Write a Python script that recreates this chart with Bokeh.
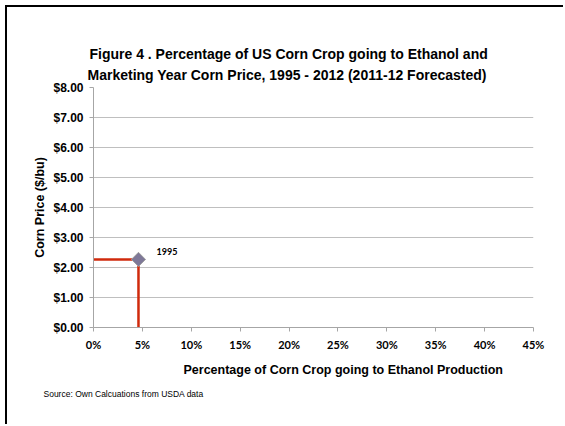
from bokeh.plotting import figure
from bokeh.models import (ColumnDataSource, FixedTicker, NumeralTickFormatter,
                          Title, Range1d)
from bokeh.core.properties import value
from bokeh.embed import file_html
from bokeh.resources import INLINE

# ---- data ----
years = ["1995"]
pct_ethanol = [0.046]
corn_price = [2.27]

y_ticks = [0, 1, 2, 3, 4, 5, 6, 7, 8]
x_ticks = [0, 0.05, 0.10, 0.15, 0.20, 0.25, 0.30, 0.35, 0.40, 0.45]

title_line1 = "Figure 4 . Percentage of US Corn Crop going to Ethanol and"
title_line2 = "Marketing Year Corn Price, 1995 - 2012 (2011-12 Forecasted)"
x_title = "Percentage of Corn Crop going to Ethanol Production"
y_title = "Corn Price ($/bu)"
source_note = "Source:  Own Calcuations from USDA data"

ARIAL = "Liberation Sans"
CALIBRI = "Lato"

W, H = 558, 419
p = figure(width=W, height=H, output_backend="svg", toolbar_location=None,
           x_range=Range1d(0, 0.45), y_range=Range1d(0, 8),
           min_border_left=86, min_border_right=32,
           min_border_top=80, min_border_bottom=99)
p.margin = (5, 0, 0, 5)
p.styles = {"border-top": "2px solid black", "border-left": "2px solid black"}
p.outline_line_color = None
p.background_fill_color = "white"
p.border_fill_color = "white"

# y axis
p.yaxis.ticker = FixedTicker(ticks=y_ticks)
p.yaxis.formatter = NumeralTickFormatter(format="$0.00")
p.yaxis.major_label_text_font = ARIAL
p.yaxis.major_label_text_font_style = "bold"
p.yaxis.major_label_text_font_size = "12px"
p.yaxis.major_label_text_color = "black"
p.yaxis.axis_line_color = "#a6a6a6"
p.yaxis.major_tick_line_color = "#a6a6a6"
p.yaxis.major_tick_in = 0
p.yaxis.major_tick_out = 4
p.yaxis.minor_tick_line_color = None
p.yaxis.major_label_standoff = 6
p.yaxis.axis_label = y_title
p.yaxis.axis_label_text_font = ARIAL
p.yaxis.axis_label_text_font_style = "bold"
p.yaxis.axis_label_text_font_size = "12.5px"
p.yaxis.axis_label_text_color = "black"
p.yaxis.axis_label_standoff = 3

# x axis
p.xaxis.ticker = FixedTicker(ticks=x_ticks)
p.xaxis.formatter = NumeralTickFormatter(format="0%")
p.xaxis.major_label_text_font = CALIBRI
p.xaxis.major_label_text_font_style = "bold"
p.xaxis.major_label_text_font_size = "11px"
p.xaxis.major_label_text_color = "black"
p.xaxis.axis_line_color = "#a6a6a6"
p.xaxis.major_tick_line_color = "#a6a6a6"
p.xaxis.major_tick_in = 0
p.xaxis.major_tick_out = 4
p.xaxis.minor_tick_line_color = None
p.xaxis.major_label_standoff = 6

p.xgrid.grid_line_color = None
p.ygrid.grid_line_color = "#bfbfbf"
p.ygrid.grid_line_width = 1

src = ColumnDataSource(dict(year=years, x=pct_ethanol, y=corn_price,
                            x0=[0] * len(years), y0=[0] * len(years)))

# red guide lines
p.segment(x0="x0", y0="y", x1="x", y1="y", source=src,
          line_color="#d02a0c", line_width=2.5)
p.segment(x0="x", y0="y0", x1="x", y1="y", source=src,
          line_color="#d02a0c", line_width=2.5)

# marker
p.scatter(x="x", y="y", source=src, marker="square", angle=0.785398,
          size=10, fill_color="#7e7898", line_color="#a0a0a0", line_width=1)

p.text(x="x", y="y", text="year", source=src, x_offset=18, y_offset=-8,
       text_font=value(CALIBRI), text_font_style="bold", text_font_size="9px",
       text_baseline="middle", text_align="left", text_color="black")

# titles (above: first added is nearest the frame)
p.add_layout(Title(text=title_line2, align="left", offset=-6, standoff=10,
                   text_font=ARIAL, text_font_style="bold",
                   text_font_size="14px", text_color="black"), "above")
p.add_layout(Title(text=title_line1, align="left", offset=-4, standoff=-4,
                   text_font=ARIAL, text_font_style="bold",
                   text_font_size="14px", text_color="black"), "above")

# below: x axis title then source note
p.add_layout(Title(text=x_title, align="left", offset=90, standoff=14,
                   text_font=ARIAL, text_font_style="bold",
                   text_font_size="12.5px", text_color="black"), "below")
p.add_layout(Title(text=source_note, align="left", offset=-50, standoff=6,
                   text_font=ARIAL, text_font_style="normal",
                   text_font_size="8.5px", text_color="black"), "below")

open("out.html", "w").write(file_html(p, INLINE))
